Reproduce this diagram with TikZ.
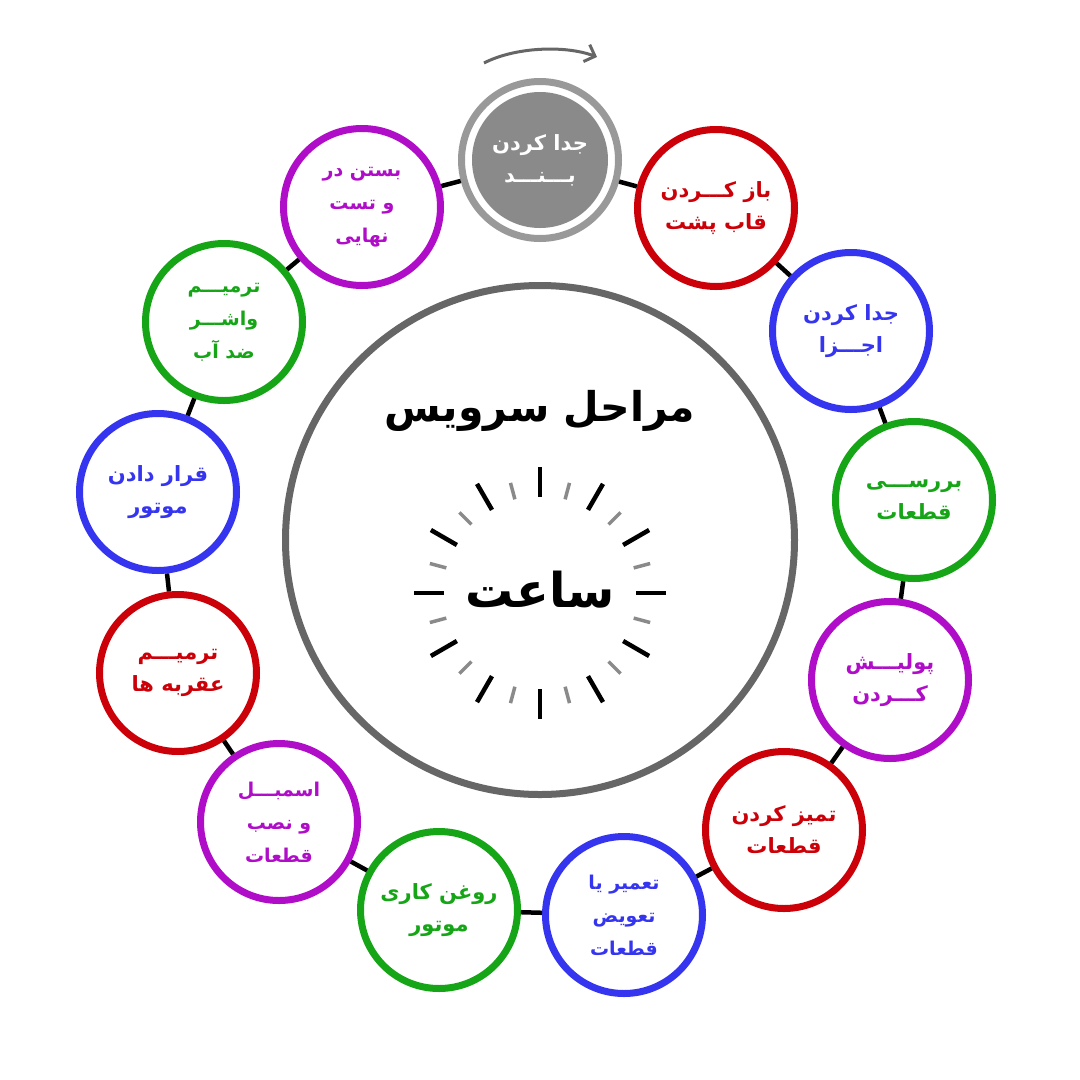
\documentclass[tikz,border=0pt]{standalone}
\usepackage{fontspec}
\usetikzlibrary{arrows.meta}
\TeXXeTstate=1
\newfontfamily\arabicfont[Script=Arabic]{DejaVu Sans}
\newcommand{\fa}[1]{\beginR #1\endR}
\definecolor{cred}{HTML}{CC0008}
\definecolor{cblue}{HTML}{3535F0}
\definecolor{cgreen}{HTML}{16A516}
\definecolor{cpurple}{HTML}{B00DC8}
\definecolor{cgray}{HTML}{8A8A8A}
\definecolor{cring}{HTML}{999999}
\definecolor{cdark}{HTML}{666666}
\begin{document}
\begin{tikzpicture}[x=1pt,y=-1pt,
  stage/.style={circle, draw=#1, line width=7pt, minimum size=157pt, fill=white,
    text=#1, align=center, inner sep=0pt,
    font=\arabicfont\bfseries\fontsize{21}{32}\selectfont},
  three/.style={font=\arabicfont\bfseries\fontsize{19}{33}\selectfont},
  link/.style={line width=4.5pt, black},
  bigtick/.style={line width=4.5pt, black},
  smalltick/.style={line width=3.5pt, cgray}]
\fill[white] (0,0) rectangle (1080,1080);
\useasboundingbox (0,0) rectangle (1080,1080);

% hub
\node (hub) [circle, draw=cdark, line width=7pt, minimum size=509pt] at (540,540) {};
\node (title) [font=\arabicfont\bfseries\fontsize{41}{50}\selectfont] at (540,411) {\fa{مراحل سرویس}};
\coordinate (clock) at (540,593);
\foreach \a in {0,30,...,330}
  \draw[bigtick] ([shift={(\a:96)}]clock) -- ([shift={(\a:126)}]clock);
\foreach \a in {15,45,...,345}
  \draw[smalltick] ([shift={(\a:97)}]clock) -- ([shift={(\a:114)}]clock);
\node (watch) [font=\arabicfont\bfseries\fontsize{48}{56}\selectfont] at (540,590) {\fa{ساعت}};

% stages
\node (s1) [stage=cring] at (540,160) {};
\fill[cgray] (s1.center) circle[radius=68];
\node (s1t) [align=center, text=white, font=\arabicfont\bfseries\fontsize{21}{32}\selectfont] at (s1) {\fa{جدا کردن}\\\fa{بـــنـــد}};
\node (s2) [stage=cred] at (716,208) {\fa{باز کـــردن}\\\fa{قاب پشت}};
\node (s3) [stage=cblue] at (851,331) {\fa{جدا کردن}\\\fa{اجـــزا}};
\node (s4) [stage=cgreen] at (914,500) {\fa{بررســـی}\\\fa{قطعات}};
\node (s5) [stage=cpurple] at (890,680) {\fa{پولیـــش}\\\fa{کـــردن}};
\node (s6) [stage=cred] at (784,830) {\fa{تمیز کردن}\\\fa{قطعات}};
\node (s7) [stage=cblue, three] at (624,915) {\fa{تعمیر یا}\\\fa{تعویض}\\\fa{قطعات}};
\node (s8) [stage=cgreen] at (439,910) {\fa{روغن کاری}\\\fa{موتور}};
\node (s9) [stage=cpurple, three] at (279,822) {\fa{اسمبـــل}\\\fa{و نصب}\\\fa{قطعات}};
\node (s10) [stage=cred] at (178,673) {\fa{ترمیـــم}\\\fa{عقربه ها}};
\node (s11) [stage=cblue] at (158,492) {\fa{قرار دادن}\\\fa{موتور}};
\node (s12) [stage=cgreen, three] at (224,322) {\fa{ترمیـــم}\\\fa{واشـــر}\\\fa{ضد آب}};
\node (s13) [stage=cpurple, three] at (362,207) {\fa{بستن در}\\\fa{و تست}\\\fa{نهایی}};

% links
\foreach \a/\b in {s1/s2,s2/s3,s3/s4,s4/s5,s5/s6,s6/s7,s7/s8,s8/s9,s9/s10,s10/s11,s11/s12,s12/s13,s13/s1}
  \draw[link] (\a) -- (\b);

% direction arrow
\coordinate (arcA) at (484,63);
\coordinate (arcB) at (597,57);
\draw[cdark, line width=3pt, -{Straight Barb[length=9pt,width=18pt]}] (arcA) .. controls (515,47) and (565,45) .. (arcB);
\end{tikzpicture}
\end{document}
